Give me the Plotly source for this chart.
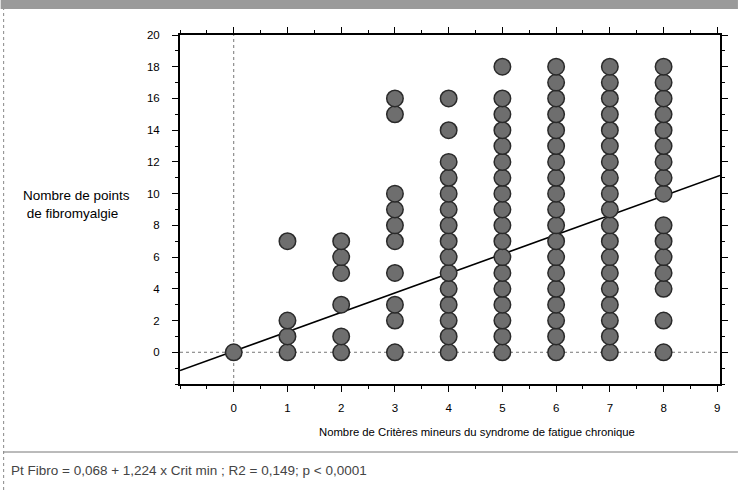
import plotly.graph_objects as go

# Data: number of minor CFS criteria (x) and fibromyalgia tender points (y)
crit_min = [0, 1, 2, 3, 4, 5, 6, 7, 8]
points_by_crit = [
    [0],
    [0, 1, 2, 7],
    [0, 1, 3, 5, 6, 7],
    [0, 2, 3, 5, 7, 8, 9, 10, 15, 16],
    [0, 1, 2, 3, 4, 5, 6, 7, 8, 9, 10, 11, 12, 14, 16],
    [0, 1, 2, 3, 4, 5, 6, 7, 8, 9, 10, 11, 12, 13, 14, 15, 16, 18],
    [0, 1, 2, 3, 4, 5, 6, 7, 8, 9, 10, 11, 12, 13, 14, 15, 16, 17, 18],
    [0, 1, 2, 3, 4, 5, 6, 7, 8, 9, 10, 11, 12, 13, 14, 15, 16, 17, 18],
    [0, 2, 4, 5, 6, 7, 8, 10, 11, 12, 13, 14, 15, 16, 17, 18],
]
intercept = 0.068
slope = 1.224
x_ticks = [0, 1, 2, 3, 4, 5, 6, 7, 8, 9]
y_ticks = [0, 2, 4, 6, 8, 10, 12, 14, 16, 18, 20]
x_range = [-1, 9.05]
y_range = [-2, 20]

xs, ys = [], []
for c, pts in zip(crit_min, points_by_crit):
    for p in pts:
        xs.append(c)
        ys.append(p)

font = "Liberation Sans, Arial, sans-serif"
fig = go.Figure()

# dotted reference lines at 0
fig.add_shape(type="line", xref="x", yref="paper", x0=0, x1=0, y0=0, y1=1,
              line=dict(color="#777", width=1, dash="dot"), layer="below")
fig.add_shape(type="line", xref="paper", yref="y", x0=0, x1=1, y0=0, y1=0,
              line=dict(color="#777", width=1, dash="dot"), layer="below")

# regression line
lx = [x_range[0], x_range[1]]
ly = [intercept + slope * v for v in lx]
fig.add_trace(go.Scatter(x=lx, y=ly, mode="lines",
                         line=dict(color="black", width=1.6), showlegend=False))

fig.add_trace(go.Scatter(x=xs, y=ys, mode="markers",
                         marker=dict(size=16.5, color="#6e6e6e",
                                     line=dict(color="#2a2a2a", width=1.5)),
                         showlegend=False))

W, H = 542, 349
fig.update_layout(
    width=740, height=490,
    margin=dict(l=180, r=18, t=35, b=106),
    paper_bgcolor="white", plot_bgcolor="white",
    font=dict(family=font, size=11.5, color="black"),
    xaxis=dict(range=x_range, tickvals=x_ticks, showgrid=False, zeroline=False,
               showline=True, linecolor="black", linewidth=2, mirror="ticks",
               ticks="outside", ticklen=6, tickcolor="black", tickwidth=1,
               minor=dict(dtick=0.5, ticks="outside", ticklen=3, tickcolor="black"),
               tickfont=dict(size=11.5), ticklabelstandoff=6),
    yaxis=dict(range=y_range, tickvals=y_ticks, showgrid=False, zeroline=False,
               showline=True, linecolor="black", linewidth=2, mirror="ticks",
               ticks="outside", ticklen=6, tickcolor="black", tickwidth=1,
               minor=dict(dtick=1, ticks="outside", ticklen=3, tickcolor="black"),
               tickfont=dict(size=11.5), ticklabelstandoff=10),
)

# top scanned banner
fig.add_shape(type="rect", xref="paper", yref="paper", x0=-180/W, x1=1+18/W,
              y0=1+(35-9)/H, y1=1+35/H, fillcolor="#9a9a9a", line=dict(width=0))
# left border
fig.add_shape(type="line", xref="paper", yref="paper", x0=-177/W, x1=-177/W,
              y0=-106/H, y1=1+26/H, line=dict(color="#888", width=1, dash="dot"))
# separator above footnote
fig.add_shape(type="line", xref="paper", yref="paper", x0=-177/W, x1=1+18/W,
              y0=-(452-384)/H, y1=-(452-384)/H, line=dict(color="#777", width=1))

fig.add_annotation(text="Nombre de points<br> de fibromyalgie", xref="paper", yref="paper",
                   x=-160/W, y=(384-204)/H, xanchor="left", yanchor="middle",
                   align="left", showarrow=False, font=dict(size=13.5))
fig.add_annotation(text="Nombre de Critères mineurs du syndrome de fatigue chronique",
                   xref="paper", yref="paper", x=(478-180)/W, y=-(432-384)/H,
                   xanchor="center", yanchor="middle", showarrow=False, font=dict(size=11.3))
fig.add_annotation(text="Pt Fibro = 0,068 + 1,224 x Crit min ; R2 = 0,149; p < 0,0001",
                   xref="paper", yref="paper", x=-172/W, y=-(470-384)/H,
                   xanchor="left", yanchor="middle", showarrow=False,
                   font=dict(size=13.5, color="#444"))

fig.write_html("out.html", config={"displayModeBar": False},
               post_script="document.body.style.margin='0';")
